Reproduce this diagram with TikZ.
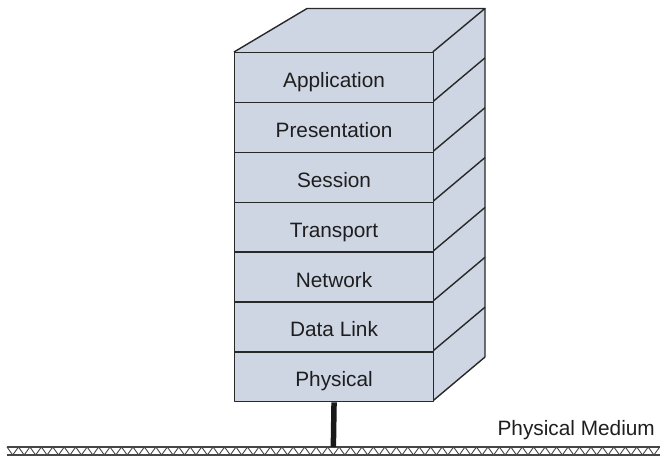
\documentclass[tikz,border=0pt]{standalone}
\usepackage{fontspec}
\setmainfont{Liberation Sans}
\definecolor{boxfill}{RGB}{206,213,227}
\definecolor{edgecol}{RGB}{40,40,40}
\definecolor{txtcol}{RGB}{30,30,30}
\definecolor{gndcol}{RGB}{70,70,70}
\begin{document}
\begin{tikzpicture}[x=1pt,y=-1pt,line join=round,
  layerbox/.style={draw=edgecol,line width=1.4pt,fill=boxfill,rectangle,
    minimum width=198.7pt,minimum height=49.86pt,inner sep=0pt,anchor=north west,
    text=txtcol,font=\fontsize{20.8}{24}\selectfont,text height=20pt,text depth=0pt},
  edgeline/.style={draw=edgecol,line width=1.4pt},
  gndline/.style={draw=gndcol,line width=1.3pt},
  zigline/.style={draw=gndcol,line width=0.9pt},
  lbl/.style={text=txtcol,font=\fontsize{20.8}{24}\selectfont,inner sep=0pt}]
\useasboundingbox (0,0) rectangle (660,457);
% top and side faces
\fill[boxfill] (234,52) -- (307,8.5) -- (485,8.5) -- (485,357) -- (432.7,401) -- (432.7,52) -- cycle;
\draw[edgeline] (234,52) -- (307,8.5) -- (485,8.5) -- (432.7,52);
\draw[edgeline] (485,8.5) -- (485,357) -- (432.7,401);
\foreach \i in {1,...,6} {
  \draw[edgeline] (432.7,52+\i*49.86) -- ++(52.3,-44);
}
% layers
\node[layerbox] (app)  at (234,52)     {Application};
\node[layerbox] (pres) at (234,101.86) {Presentation};
\node[layerbox] (sess) at (234,151.72) {Session};
\node[layerbox] (trans) at (234,201.58) {Transport};
\node[layerbox] (net)  at (234,251.44) {Network};
\node[layerbox] (dl)   at (234,301.30) {Data Link};
\node[layerbox] (phys) at (234,351.16) {Physical};
% ground
\coordinate (gnd) at (333.35,447);
\draw[zigline] (7,447) \foreach \k in {1,...,57} { -- ++(5.725,8) -- ++(5.725,-8) };
\draw[gndline] (7,447) -- (660,447);
\draw[gndline] (7,455) -- (660,455);
\draw[draw=black!90,line width=5.5pt] (phys.south) -- (gnd);
\node[lbl,anchor=base east] (medium) at (655,435.5) {Physical Medium};
\end{tikzpicture}
\end{document}
